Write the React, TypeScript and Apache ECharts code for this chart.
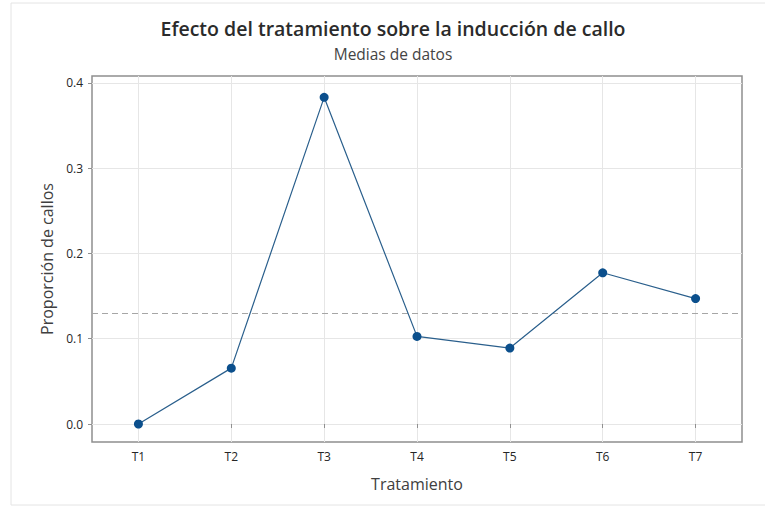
import React, { useEffect, useRef } from "react";
import * as echarts from "echarts";

const categories = ["T1", "T2", "T3", "T4", "T5", "T6", "T7"];
const means = [0.0, 0.0655, 0.383, 0.1027, 0.089, 0.1773, 0.147];
const overallMean = 0.131;
const yTicks = [0.0, 0.1, 0.2, 0.3, 0.4];
const titleText = "Efecto del tratamiento sobre la inducción de callo";
const subtitleText = "Medias de datos";
const xName = "Tratamiento";
const yName = "Proporción de callos";

const FONT = "'Open Sans', 'Noto Sans', sans-serif";

export default function App() {
  const ref = useRef<HTMLDivElement>(null);
  useEffect(() => {
    if (!ref.current) return;
    const chart = echarts.init(ref.current, null, { renderer: "svg" });
    const xVals = categories.map((_, i) => i + 1);
    chart.setOption({
      animation: false,
      backgroundColor: "#ffffff",
      textStyle: { fontFamily: FONT },
      graphic: [
        {
          type: "rect",
          shape: { x: 11, y: 3, width: 800, height: 502 },
          style: { fill: "none", stroke: "#e4e4e4", lineWidth: 1 },
          silent: true,
        },
        {
          type: "text",
          x: 393,
          y: 28.5,
          style: {
            text: titleText,
            align: "center",
            verticalAlign: "middle",
            fontSize: 19.5,
            fontWeight: 600,
            fontFamily: FONT,
            fill: "#2b2b2b",
          },
        },
        {
          type: "text",
          x: 393,
          y: 54,
          style: {
            text: subtitleText,
            align: "center",
            verticalAlign: "middle",
            fontSize: 15.5,
            fontFamily: FONT,
            fill: "#444444",
          },
        },
      ],
      grid: {
        left: 92,
        right: 23,
        top: 76,
        bottom: 67,
        show: true,
        borderColor: "#8f8f8f",
        borderWidth: 1.5,
        backgroundColor: "transparent",
      },
      xAxis: {
        type: "value",
        min: 0.5,
        max: 7.5,
        name: xName,
        nameLocation: "middle",
        nameGap: 34,
        nameTextStyle: { fontSize: 16, color: "#404040", fontFamily: FONT },
        axisLine: { show: false },
        axisTick: {
          show: true,
          length: 4,
          customValues: xVals,
          lineStyle: { color: "#8f8f8f" },
        },
        axisLabel: {
          customValues: xVals,
          formatter: (v: number) => categories[Math.round(v) - 1] ?? "",
          fontSize: 12,
          color: "#262626",
          margin: 8,
          fontFamily: FONT,
        },
        splitLine: { show: true, lineStyle: { color: "#e6e6e6", width: 1 } },
      },
      yAxis: {
        type: "value",
        min: -0.0211,
        max: 0.408,
        name: yName,
        nameLocation: "middle",
        nameGap: 35,
        nameTextStyle: { fontSize: 16, color: "#404040", fontFamily: FONT },
        axisLine: { show: false },
        axisTick: {
          show: true,
          length: 4,
          customValues: yTicks,
          lineStyle: { color: "#8f8f8f" },
        },
        axisLabel: {
          customValues: yTicks,
          formatter: (v: number) => v.toFixed(1),
          fontSize: 12,
          color: "#262626",
          margin: 9,
          fontFamily: FONT,
        },
        splitLine: { show: true, lineStyle: { color: "#e6e6e6", width: 1 } },
      },
      series: [
        {
          type: "line",
          data: means.map((v, i) => [xVals[i], v]),
          symbol: "circle",
          symbolSize: 9,
          lineStyle: { color: "#2a5f8c", width: 1.2 },
          itemStyle: { color: "#0b4f8c" },
          markLine: {
            silent: true,
            symbol: "none",
            label: { show: false },
            lineStyle: { color: "#a6a6a6", type: [6, 4], width: 1.2 },
            data: [{ yAxis: overallMean }],
          },
          z: 5,
        },
      ],
    });
    return () => chart.dispose();
  }, []);
  return (
    <div
      ref={ref}
      style={{ position: "fixed", left: 0, top: 0, width: 765, height: 509 }}
    />
  );
}
